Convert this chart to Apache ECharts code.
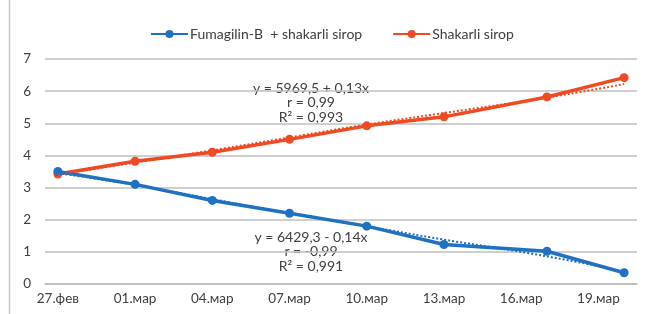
<!DOCTYPE html>
<html>
<head>
<meta charset="utf-8">
<script src="https://cdn.jsdelivr.net/npm/echarts@6/dist/echarts.min.js"></script>
<style>
  html, body { margin: 0; padding: 0; background: #fff; }
  #chart { width: 647px; height: 314px; }
</style>
</head>
<body>
<div id="chart"></div>
<script>
// one category per day, labels shown every 3rd day
const days = [
  '27.фев', '28.фев', '29.фев', '01.мар', '02.мар', '03.мар', '04.мар', '05.мар',
  '06.мар', '07.мар', '08.мар', '09.мар', '10.мар', '11.мар', '12.мар', '13.мар',
  '14.мар', '15.мар', '16.мар', '17.мар', '18.мар', '19.мар', '20.мар'
];

const sampleDays = ['27.фев', '01.мар', '04.мар', '07.мар', '10.мар', '13.мар', '17.мар', '20.мар'];
const fumagilin = [3.5, 3.1, 2.6, 2.2, 1.8, 1.23, 1.02, 0.35];
const shakarli = [3.42, 3.82, 4.1, 4.5, 4.92, 5.2, 5.82, 6.42];

// dotted trend lines
const redTrendDays = ['27.фев', '01.мар', '04.мар', '07.мар', '10.мар', '13.мар', '17.мар', '20.мар'];
const redTrend = [3.4, 3.78, 4.16, 4.56, 4.96, 5.32, 5.8, 6.22];
const blueTrendDays = ['27.фев', '01.мар', '04.мар', '07.мар', '10.мар', '13.мар', '16.мар', '19.мар'];
const blueTrend = [3.45, 3.08, 2.64, 2.2, 1.8, 1.38, 1.0, 0.56];

const redEq = ['y = 5969,5 + 0,13x', 'r = 0,99', 'R² = 0,993'];
const blueEq = ['y = 6429,3 - 0,14x', 'r = -0,99', 'R² = 0,991'];

const blue = '#1f71c1';
const red = '#ef4a24';
const txt = '#404040';
const font = 'Lato, "Noto Sans", sans-serif';

const pairs = (xs, ys) => xs.map((d, i) => [d, ys[i]]);

const chart = echarts.init(document.getElementById('chart'));

const eqText = (lines, cx, cy) => lines.map((t, i) => ({
  type: 'text',
  x: cx,
  y: cy + i * 14.5,
  style: { text: t, fill: txt, font: '14px ' + font, align: 'center', verticalAlign: 'middle' }
}));

chart.setOption({
  animation: false,
  textStyle: { fontFamily: font },
  legend: {
    data: ['Fumagilin-B  + shakarli sirop', 'Shakarli sirop'],
    top: 22,
    left: 145,
    itemWidth: 37,
    itemHeight: 10,
    itemGap: 30,
    textStyle: { color: txt, fontSize: 14, fontFamily: font, padding: [0, 0, 0, -3] }
  },
  grid: { left: 45, right: 10, top: 59, bottom: 30 },
  xAxis: {
    type: 'category',
    data: days,
    boundaryGap: true,
    axisLine: { lineStyle: { color: '#bfbfbf', width: 1.5 } },
    axisTick: { interval: 2, length: 4, lineStyle: { color: '#bfbfbf', width: 1.5 } },
    axisLabel: { interval: 2, color: txt, fontSize: 13.5, margin: 8, fontFamily: font }
  },
  yAxis: {
    type: 'value',
    min: 0,
    max: 7,
    interval: 1,
    axisLine: { show: false },
    axisTick: { show: false },
    axisLabel: { color: txt, fontSize: 13.5, margin: 14, fontFamily: font },
    splitLine: { lineStyle: { color: '#bfbfbf', width: 1.5 } }
  },
  graphic: [
    { type: 'line', shape: { x1: 9.5, y1: 0, x2: 9.5, y2: 314 }, style: { stroke: '#c8c8c8', lineWidth: 1.5 } }
  ].concat(eqText(redEq, 311, 88), eqText(blueEq, 311, 237)),
  series: [
    {
      name: 'Shakarli sirop',
      type: 'line',
      data: pairs(sampleDays, shakarli),
      symbol: 'circle',
      symbolSize: 9,
      lineStyle: { color: red, width: 3.5 },
      itemStyle: { color: red },
      z: 3
    },
    {
      name: 'Fumagilin-B  + shakarli sirop',
      type: 'line',
      data: pairs(sampleDays, fumagilin),
      symbol: 'circle',
      symbolSize: 9,
      lineStyle: { color: blue, width: 3.5 },
      itemStyle: { color: blue },
      z: 4
    },
    {
      name: 'redTrend',
      type: 'line',
      data: pairs(redTrendDays, redTrend),
      smooth: true,
      showSymbol: false,
      lineStyle: { color: red, width: 2, type: [2, 2] },
      z: 5
    },
    {
      name: 'blueTrend',
      type: 'line',
      data: pairs(blueTrendDays, blueTrend),
      smooth: true,
      showSymbol: false,
      lineStyle: { color: blue, width: 2, type: [2, 2] },
      z: 5
    }
  ]
});
</script>
</body>
</html>
